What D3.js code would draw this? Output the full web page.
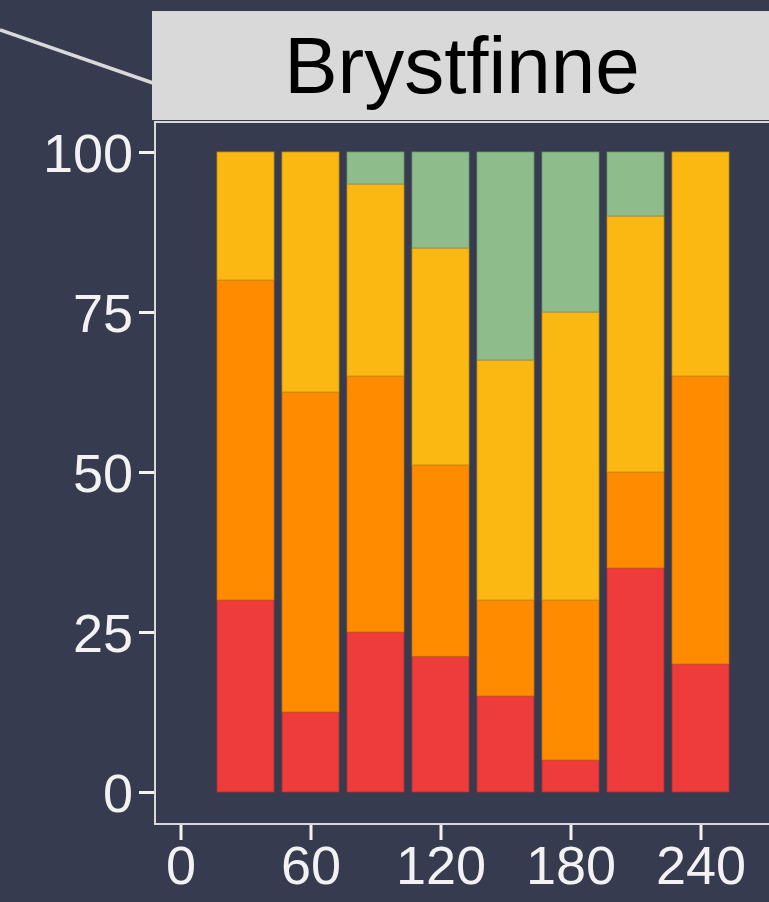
<!DOCTYPE html>
<html>
<head>
<meta charset="utf-8">
<script src="https://cdn.jsdelivr.net/npm/d3@7"></script>
<style>
  html, body { margin: 0; padding: 0; background: #363b4f; }
  svg { display: block; }
</style>
</head>
<body>
<script>
// ---- data ----
const categories = [30, 60, 90, 120, 150, 180, 210, 240];
const groups = ["red", "orange", "yellow", "green"];
const redValues    = [30, 12.5, 25, 21.2, 15, 5, 35, 20];
const orangeValues = [50, 50, 40, 29.9, 15, 25, 15, 45];
const yellowValues = [20, 37.5, 30, 33.9, 37.5, 45, 40, 35];
const greenValues  = [0, 0, 5, 15, 32.5, 25, 10, 0];
const xTicks = [0, 60, 120, 180, 240];
const yTicks = [0, 25, 50, 75, 100];
const panelTitle = "Brystfinne";

// ---- styles ----
const colors = { red: "#ee3b3b", orange: "#ff8c00", yellow: "#fbb812", green: "#8fbc8b" };
const W = 769, H = 902;
const bg = "#363b4f";
const light = "#d9d9d9";

const svg = d3.select("body").append("svg").attr("width", W).attr("height", H);
svg.append("rect").attr("width", W).attr("height", H).attr("fill", bg);

const panel = { left: 155, right: 820, top: 122, bottom: 824 };

const x = d3.scaleLinear().domain([0, 60]).range([180.5, 310.5]);
const y = d3.scaleLinear().domain([0, 100]).range([792, 152]);

const rows = categories.map((c, i) => ({
  cat: c, red: redValues[i], orange: orangeValues[i], yellow: yellowValues[i], green: greenValues[i]
}));
const stack = d3.stack().keys(groups)(rows);

// connector line
svg.append("line").attr("x1", 0).attr("y1", 30).attr("x2", 153).attr("y2", 83)
  .attr("stroke", light).attr("stroke-width", 3.5);

// strip
svg.append("rect").attr("x", 152).attr("y", 11).attr("width", W).attr("height", 109)
  .attr("fill", light);
svg.append("text").attr("x", 462).attr("y", 93).attr("text-anchor", "middle")
  .attr("font-family", "Liberation Sans, Arial, sans-serif").attr("font-size", 80)
  .attr("fill", "#000").text(panelTitle);

// bars
const barW = x(26.3) - x(0);
svg.append("g").selectAll("g").data(stack).join("g")
  .attr("fill", d => colors[d.key])
  .attr("stroke", d => d3.color(colors[d.key]).darker(0.7))
  .selectAll("rect").data(d => d.filter(s => s[1] - s[0] > 0)).join("rect")
  .attr("x", d => x(d.data.cat) - barW / 2)
  .attr("width", barW)
  .attr("y", d => y(d[1]))
  .attr("height", d => y(d[0]) - y(d[1]))
  .attr("stroke-width", 0.8);

// panel border
svg.append("rect").attr("x", panel.left).attr("y", panel.top)
  .attr("width", panel.right - panel.left).attr("height", panel.bottom - panel.top)
  .attr("fill", "none").attr("stroke", light).attr("stroke-width", 2);

// axes
const fontFam = "Liberation Sans, Arial, sans-serif";
const yAxis = svg.append("g").attr("transform", `translate(${panel.left - 1},0)`)
  .call(d3.axisLeft(y).tickValues(yTicks).tickSize(15).tickPadding(6));
const xAxis = svg.append("g").attr("transform", `translate(0,${panel.bottom + 1})`)
  .call(d3.axisBottom(x).tickValues(xTicks).tickSize(15).tickPadding(6));
[yAxis, xAxis].forEach(a => {
  a.select(".domain").remove();
  a.selectAll(".tick line").attr("stroke", "#f2f2f2").attr("stroke-width", 3);
  a.selectAll(".tick text").attr("fill", "#f2f2f2").attr("font-size", 54).attr("font-family", fontFam);
});
yAxis.selectAll(".tick text").attr("dy", "0.36em");
</script>
</body>
</html>
